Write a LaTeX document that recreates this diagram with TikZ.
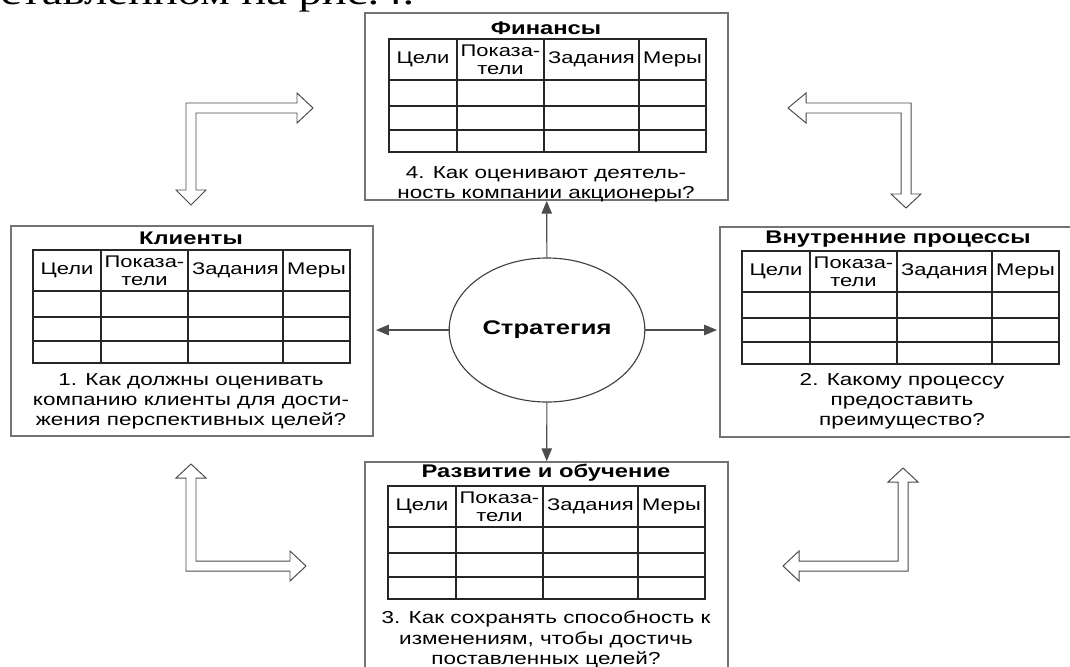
\documentclass[tikz,border=0pt]{standalone}
\usepackage{fontspec}
\setmainfont{Liberation Sans}[FakeStretch=1.3]
\newfontfamily\pagefont{Liberation Serif}[FakeStretch=1.3]
\usetikzlibrary{arrows.meta,shapes.geometric}
\tikzset{
  persbox/.style={draw=black!55, line width=1.2pt, rectangle, inner sep=0pt},
  boxtitle/.style={font=\fontsize{13}{15}\selectfont\bfseries, inner sep=0pt},
  cell/.style={font=\fontsize{12}{12.8}\selectfont, align=center, inner sep=0pt},
  question/.style={font=\fontsize{12.3}{14.3}\selectfont, align=center, anchor=north, inner sep=0pt},
  con/.style={draw=black!70, line width=0.8pt, -{Triangle[length=3.2mm,width=2.6mm]}},
  hollow/.style={draw=black!70, line width=0.7pt, fill=white, line join=miter},
  grid/.style={draw=black!85, line width=0.8pt},
}
\newcommand{\bsctable}[2]{%
  \begin{scope}[shift={(#1,#2)}]
    \draw[grid] (0,0) rectangle (317,113);
    \foreach \cx in {68,155,250} \draw[grid] (\cx,0) -- (\cx,113);
    \foreach \ry in {41,67,91} \draw[grid] (0,\ry) -- (317,\ry);
    \node[cell] at (34,20.5) {Цели};
    \node[cell] at (111.5,20.5) {Показа-\\тели};
    \node[cell] at (202.5,20.5) {Задания};
    \node[cell] at (283.5,20.5) {Меры};
  \end{scope}}

\begin{document}
\begin{tikzpicture}[x=0.025cm, y=-0.025cm]
\useasboundingbox (0,0) rectangle (1070,666);
% line of the page above the figure
\node[anchor=base west, inner sep=0pt, font=\pagefont\fontsize{25.5}{28}\selectfont] (page) at (0,4) {ставленном на рис.4.};

% four perspectives
\node[persbox, minimum width=9.075cm, minimum height=4.675cm] (fin) at (546.5,106.5) {};
\node[persbox, minimum width=9.05cm, minimum height=5.25cm] (cli) at (192,331) {};
\node[persbox, minimum width=9.25cm, minimum height=5.25cm] (proc) at (905,332) {};
\node[persbox, minimum width=9.075cm, minimum height=5.5cm] (dev) at (546.5,572) {};

\node[boxtitle] (fintitle) at (546,28) {Финансы};
\bsctable{389}{39}
\node[question] (finq) at (546,166) {4. Как оценивают деятель-\\ность компании акционеры?};

\node[boxtitle] (clititle) at (191,238) {Клиенты};
\bsctable{33}{250}
\node[question] (cliq) at (191,373) {1. Как должны оценивать\\компанию клиенты для дости-\\жения перспективных целей?};

\node[boxtitle] (proctitle) at (898,239) {Внутренние процессы};
\bsctable{742}{251}
\node[question] (procq) at (902,373) {2. Какому процессу\\предоставить\\преимущество?};

\node[boxtitle] (devtitle) at (546,473) {Развитие и обучение};
\bsctable{388}{486}
\node[question] (devq) at (546,611) {3. Как сохранять способность к\\изменениям, чтобы достичь\\поставленных целей?};

% strategy in the middle
\node[ellipse, draw=black!75, line width=0.8pt, minimum width=4.75cm, minimum height=3.6cm,
  font=\fontsize{14}{16}\selectfont\bfseries] (strat) at (547,330) {Стратегия};
\draw[con] (strat) -- (fin);
\draw[con] (strat) -- (dev);
\draw[con, shorten >=1.5pt] (strat.west) -- (strat.west -| cli.east);
\draw[con, shorten >=1.5pt] (strat.east) -- (strat.east -| proc.west);

% hollow links between the perspectives
\draw[hollow] (186,103) -- (297,103) -- (297,93) -- (313,108) -- (297,123) -- (297,113) -- (196,113)
  -- (196,190) -- (206,190) -- (191,205) -- (176,190) -- (186,190) -- cycle;
\draw[hollow] (911,103) -- (806,103) -- (806,93) -- (788,108) -- (806,123) -- (806,113) -- (901,113)
  -- (901,194) -- (891,194) -- (906,208) -- (921,194) -- (911,194) -- cycle;
\draw[hollow] (186,571) -- (186,478) -- (176,478) -- (191,464) -- (206,478) -- (196,478) -- (196,561)
  -- (290,561) -- (290,551) -- (306,566) -- (290,581) -- (290,571) -- cycle;
\draw[hollow] (908,571) -- (908,482) -- (918,482) -- (903,468) -- (888,482) -- (898,482) -- (898,561)
  -- (799,561) -- (799,551) -- (783,566) -- (799,581) -- (799,571) -- cycle;
\end{tikzpicture}
\end{document}
